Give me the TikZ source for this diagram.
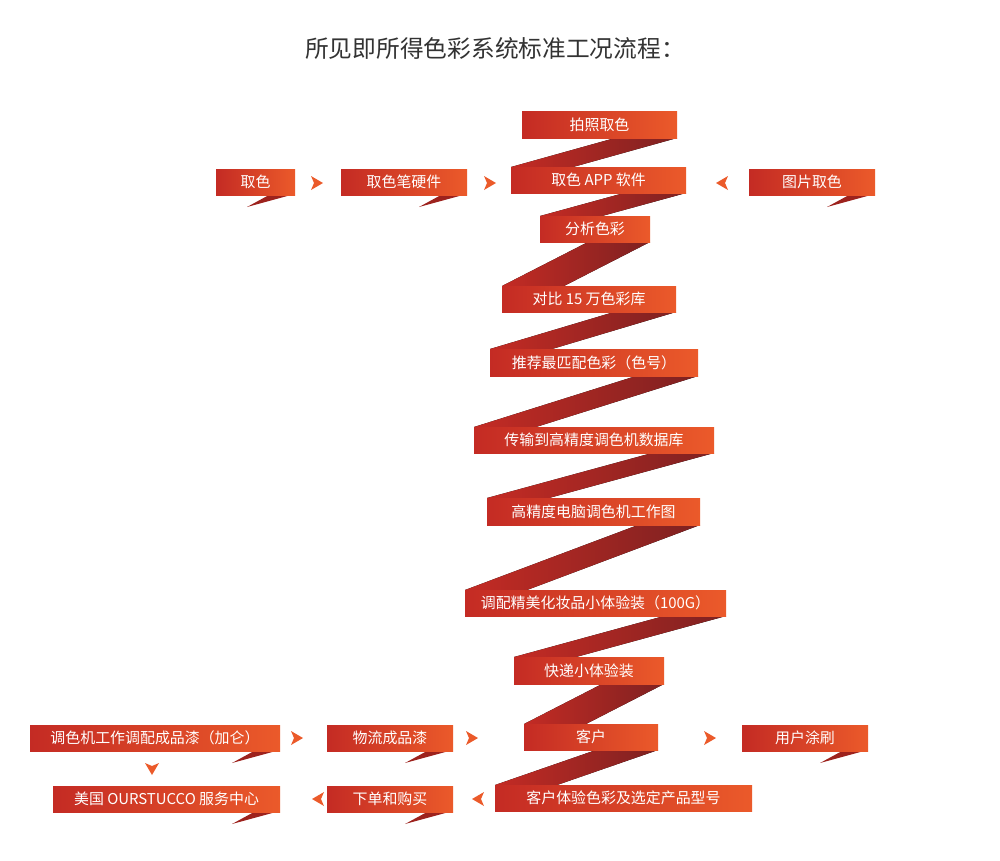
\documentclass[tikz,border=0pt]{standalone}
\usepackage{fontspec}
\setmainfont{Noto Sans CJK SC}
\usepackage{tikz}
\pgfdeclarelayer{background}
\pgfsetlayers{background,main}
\definecolor{boxdark}{HTML}{C42B24}
\definecolor{boxlight}{HTML}{EB5A2A}
\definecolor{ribdark}{HTML}{7E2121}
\definecolor{titlegray}{HTML}{333333}
\tikzset{
  boxtext/.style={text=white,font=\fontsize{8.5}{10}\selectfont,inner sep=0pt},
  boxfill/.style={left color=boxdark,right color=boxlight,draw=none},
  ribfill/.style={left color=boxdark,right color=ribdark,draw=none},
  arrowtip/.style={fill=boxlight,draw=none}
}
% box with a folded tail: x1,y1,x2,y2 (pixel units)
\newcommand{\tailbox}[5]{%
  \fill[boxdark!80!black] (#3-48,#4+12) -- (#3-4,#4) -- (#3-26,#4) -- cycle;
  \fill[boxfill] (#1,#2) rectangle (#3,#4);
  \node[boxtext] (#5) at ({(#1+#3)/2},{(#2+#4)/2}) {};}
\begin{document}
\begin{tikzpicture}[x=0.02cm,y=-0.02cm]
\useasboundingbox (0,0) rectangle (1000,860);
\node[text=titlegray,font=\fontsize{13.5}{16}\selectfont] (title) at (495,48) {所见即所得色彩系统标准工况流程：};
% zigzag ribbon
\begin{pgfonlayer}{background}
\foreach \xa/\ya/\xb/\yb in {677/138/511/167, 686/193/540/216, 650/242/502/286, 676/312/490/349,
  698/376/474/427, 714/453/487/498, 700/525/465/590, 726/616/514/657, 664/684/524/724, 658/750/495/785}
  \fill[ribfill] (\xa-62,\ya) -- (\xa,\ya) -- (\xb+62,\yb) -- (\xb,\yb) -- cycle;
\end{pgfonlayer}
% central boxes
\foreach \xa/\ya/\xb/\yb/\nm/\txt in {522/111/677/138/c1/拍照取色, 511/167/686/193/c2/取色 APP 软件,
  540/216/650/242/c3/分析色彩, 502/286/676/312/c4/对比 15 万色彩库,
  490/349/698/376/c5/推荐最匹配色彩（色号）, 474/427/714/453/c6/传输到高精度调色机数据库,
  487/498/700/525/c7/高精度电脑调色机工作图, 465/590/726/616/c8/调配精美化妆品小体验装（100G）,
  514/657/664/684/c9/快递小体验装, 524/724/658/750/c10/客户, 495/785/752/811/c11/客户体验色彩及选定产品型号}{
  \fill[boxfill] (\xa,\ya) rectangle (\xb,\yb);
  \node[boxtext] (\nm) at ({(\xa+\xb)/2},{(\ya+\yb)/2}) {\txt};
}
% side boxes
\foreach \xa/\ya/\xb/\yb/\nm/\txt in {216/169/295/195/s1/取色, 341/169/467/195/s2/取色笔硬件,
  749/169/875/195/s3/图片取色, 30/725/280/751/s4/调色机工作调配成品漆（加仑）,
  327/725/453/751/s5/物流成品漆, 742/725/868/751/s6/用户涂刷,
  53/786/280/812/s7/美国 OURSTUCCO 服务中心, 327/786/453/812/s8/下单和购买}{
  \fill[boxdark!80!black] (\xb-48,\yb+12) -- (\xb-4,\yb) -- (\xb-26,\yb) -- cycle;
  \fill[boxfill] (\xa,\ya) rectangle (\xb,\yb);
  \node[boxtext] (\nm) at ({(\xa+\xb)/2},{(\ya+\yb)/2}) {\txt};
}
% small arrow tips
\foreach \x/\y/\r in {317/183/0, 490/183/0, 722/183/180, 297/738/0, 472/738/0, 710/738/0,
  152/769/90, 318/799/180, 478/799/180}
  \fill[arrowtip,rotate around={-\r:(\x,\y)}] (\x-6,\y-7) -- (\x+6,\y) -- (\x-6,\y+7) -- (\x-3,\y) -- cycle;
\end{tikzpicture}
\end{document}
